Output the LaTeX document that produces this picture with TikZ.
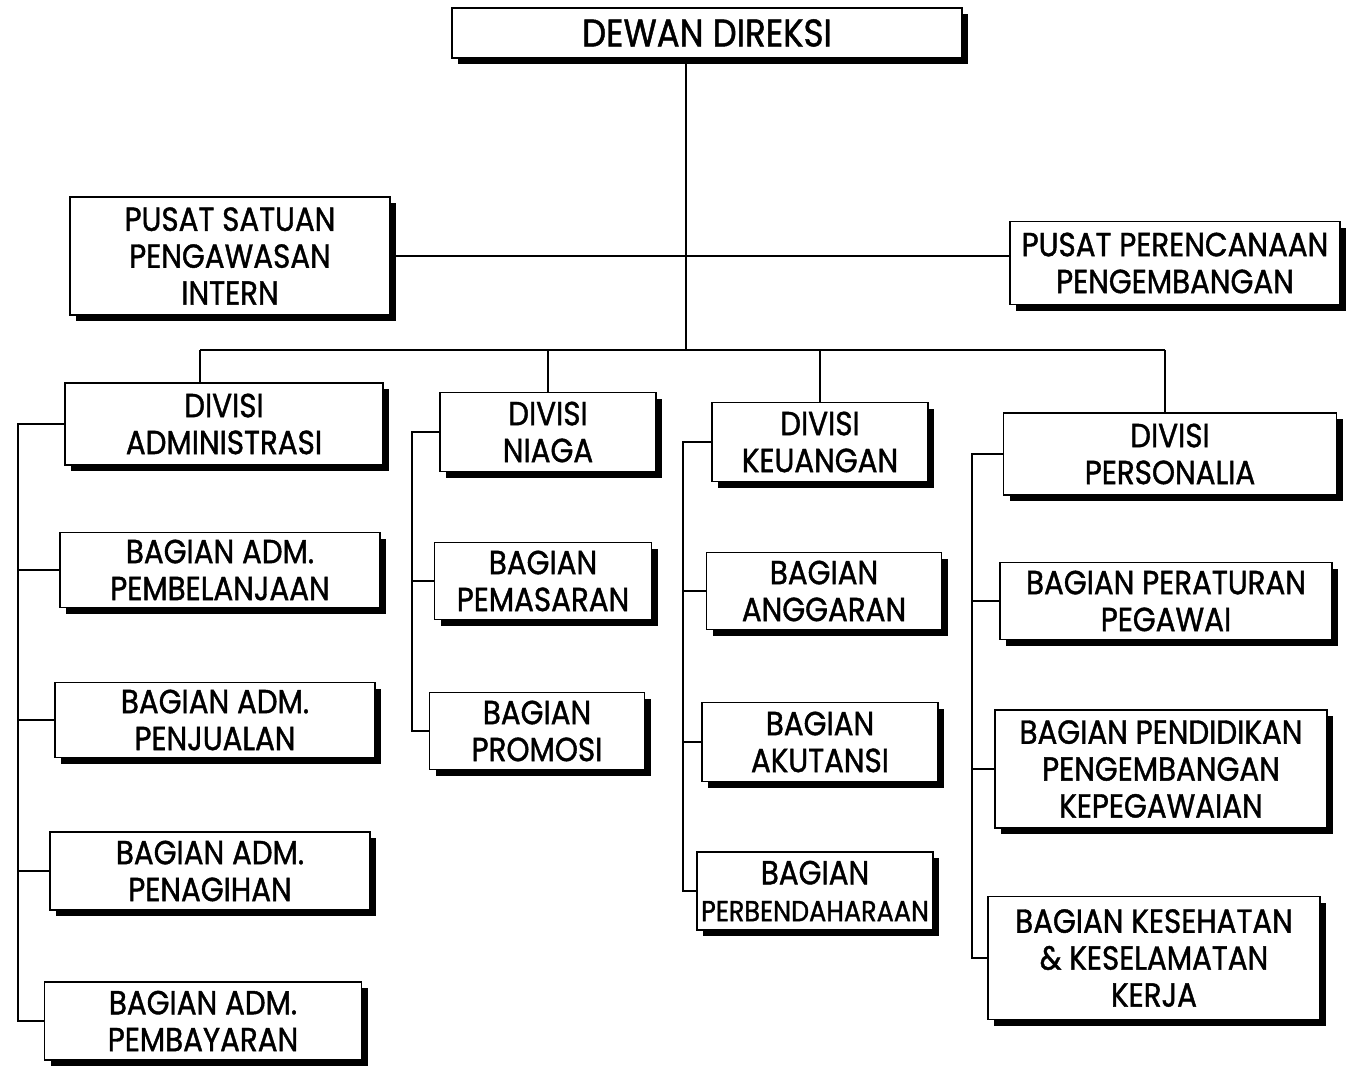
\documentclass[tikz,border=0pt]{standalone}
\usepackage{fontspec}
\setmainfont[FakeStretch=0.88,FakeBold=1.2]{Poppins}
\usetikzlibrary{shadows,positioning,calc}
\tikzset{
  unitbox/.style={draw,fill=white,line width=1pt,align=center,inner sep=2pt,
    font=\fontsize{19}{21}\selectfont,
    drop shadow={shadow xshift=3.5pt,shadow yshift=-3.5pt,fill=black,opacity=1}},
  link/.style={line width=1pt}
}

\begin{document}
\begin{tikzpicture}[x=0.02cm,y=-0.02cm]
  \useasboundingbox (0,0) rectangle (1349,1070);
  \node[unitbox,minimum width=10.2cm,minimum height=1.0cm,font=\fontsize{22}{24}\selectfont] (dewan) at (707,33) {DEWAN DIREKSI};
  \node[unitbox,minimum width=6.4cm,minimum height=2.36cm] (psi) at (230,256) {PUSAT SATUAN\\PENGAWASAN\\INTERN};
  \node[unitbox,minimum width=6.6cm,minimum height=1.66cm] (ppp) at (1175,263) {PUSAT PERENCANAAN\\PENGEMBANGAN};

  \node[unitbox,minimum width=6.36cm,minimum height=1.64cm] (dadm) at (224,424) {DIVISI\\ADMINISTRASI};
  \node[unitbox,minimum width=4.32cm,minimum height=1.58cm] (dniaga) at (548,432) {DIVISI\\NIAGA};
  \node[unitbox,minimum width=4.32cm,minimum height=1.58cm] (dkeu) at (820,442) {DIVISI\\KEUANGAN};
  \node[unitbox,minimum width=6.66cm,minimum height=1.64cm] (dpers) at (1170,454) {DIVISI\\PERSONALIA};

  \node[unitbox,minimum width=6.4cm,minimum height=1.5cm] (bbelanja) at (220,570) {BAGIAN ADM.\\PEMBELANJAAN};
  \node[unitbox,minimum width=6.4cm,minimum height=1.5cm] (bjual) at (215,720) {BAGIAN ADM.\\PENJUALAN};
  \node[unitbox,minimum width=6.4cm,minimum height=1.56cm] (btagih) at (210,871) {BAGIAN ADM.\\PENAGIHAN};
  \node[unitbox,minimum width=6.34cm,minimum height=1.56cm] (bbayar) at (203,1021) {BAGIAN ADM.\\PEMBAYARAN};

  \node[unitbox,minimum width=4.34cm,minimum height=1.54cm] (bpasar) at (543,581) {BAGIAN\\PEMASARAN};
  \node[unitbox,minimum width=4.3cm,minimum height=1.54cm] (bpromo) at (537,731) {BAGIAN\\PROMOSI};

  \node[unitbox,minimum width=4.7cm,minimum height=1.54cm] (banggar) at (824,591) {BAGIAN\\ANGGARAN};
  \node[unitbox,minimum width=4.72cm,minimum height=1.58cm] (bakun) at (820,742) {BAGIAN\\AKUTANSI};
  \node[unitbox,minimum width=4.72cm,minimum height=1.56cm] (bbenda) at (815,891) {BAGIAN\\{\fontsize{16.5}{21}\selectfont PERBENDAHARAAN}};

  \node[unitbox,minimum width=6.64cm,minimum height=1.54cm] (batur) at (1166,601) {BAGIAN PERATURAN\\PEGAWAI};
  \node[unitbox,minimum width=6.64cm,minimum height=2.36cm] (bdidik) at (1161,769) {BAGIAN PENDIDIKAN\\PENGEMBANGAN\\KEPEGAWAIAN};
  \node[unitbox,minimum width=6.64cm,minimum height=2.46cm] (bsehat) at (1154,958) {BAGIAN KESEHATAN\\\& KESELAMATAN\\KERJA};

  \coordinate (bus) at (686,350);
  \coordinate (dropadm) at (200,350);
  \coordinate (droppers) at (1165,350);
  \coordinate (spadm) at (18,0);
  \coordinate (spniaga) at (412,0);
  \coordinate (spkeu) at (683,0);
  \coordinate (sppers) at (972,0);

  \draw[link] (dewan.south -| bus) -- (bus);
  \draw[link] (psi.east) -- (psi.east -| ppp.west);
  \draw[link] (dropadm) -- (droppers);
  \draw[link] (dropadm) -- (dropadm |- dadm.north);
  \draw[link] (bus -| dniaga.north) -- (dniaga.north);
  \draw[link] (bus -| dkeu.north) -- (dkeu.north);
  \draw[link] (droppers) -- (droppers |- dpers.north);

  \draw[link] (dadm.west) -- (dadm.west -| spadm) -- (bbayar.west -| spadm) -- (bbayar.west);
  \foreach \b in {bbelanja,bjual,btagih}
    \draw[link] (\b.west -| spadm) -- (\b.west);
  \draw[link] (dniaga.west) -- (dniaga.west -| spniaga) -- (bpromo.west -| spniaga) -- (bpromo.west);
  \draw[link] (bpasar.west -| spniaga) -- (bpasar.west);
  \draw[link] (dkeu.west) -- (dkeu.west -| spkeu) -- (bbenda.west -| spkeu) -- (bbenda.west);
  \foreach \b in {banggar,bakun}
    \draw[link] (\b.west -| spkeu) -- (\b.west);
  \draw[link] (dpers.west) -- (dpers.west -| sppers) -- (bsehat.west -| sppers) -- (bsehat.west);
  \foreach \b in {batur,bdidik}
    \draw[link] (\b.west -| sppers) -- (\b.west);
\end{tikzpicture}
\end{document}
